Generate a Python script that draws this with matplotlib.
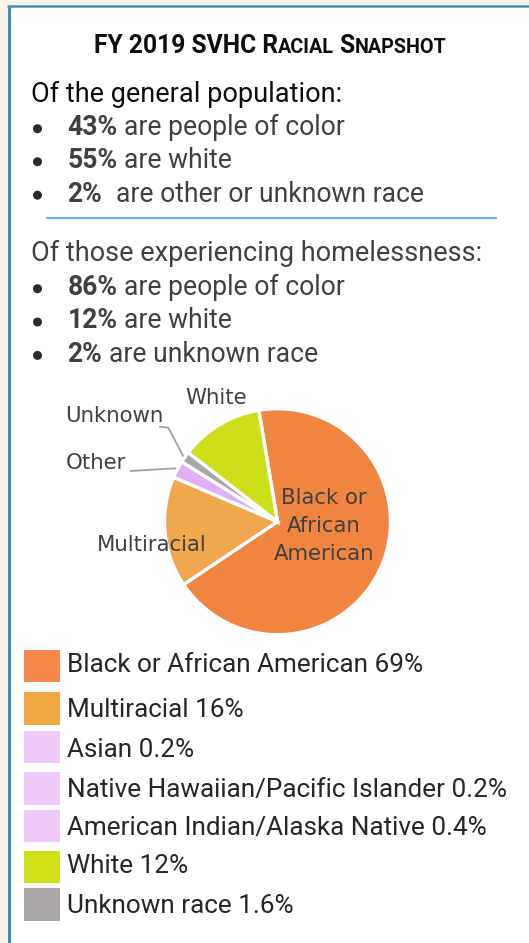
import matplotlib
matplotlib.use("Agg")
import matplotlib.pyplot as plt
from matplotlib.patches import Rectangle, Circle
import numpy as np

# ---- content -------------------------------------------------------------
title_runs = [("FY 2019 SVHC R", "big"), ("ACIAL", "small"), (" S", "big"), ("NAPSHOT", "small")]

general_heading = "Of the general population:"
general_pct = ["43%", "55%", "2%"]
general_text = [" are people of color", " are white", "  are other or unknown race"]

homeless_heading = "Of those experiencing homelessness:"
homeless_pct = ["86%", "12%", "2%"]
homeless_text = [" are people of color", " are white", " are unknown race"]

pie_labels = ["Black or\nAfrican\nAmerican", "Multiracial", "Other", "Unknown", "White"]
pie_values = [69, 16, 2.5, 1.6, 12]

legend_names = ["Black or African American", "Multiracial", "Asian",
                "Native Hawaiian/Pacific Islander", "American Indian/Alaska Native",
                "White", "Unknown race"]
legend_values = [69, 16, 0.2, 0.2, 0.4, 12, 1.6]

# ---- style ---------------------------------------------------------------
BODY = "Roboto"
PIE_FONT = "DejaVu Sans"
pie_colors = ["#f08541", "#f0a84e", "#dfb0f5", "#a8a6a6", "#cddf1a"]
legend_colors = ["#f5874a", "#f0a842", "#eecbfa", "#eecbfa", "#eecbfa", "#cfe018", "#aba7a7"]
BORDER = "#4a8fa8"
CREAM = "#f6f4e9"
RULE = "#6ab4d4"
DARK = "#0d0d0d"
GREY = "#404040"

W, H = 529, 943
fig = plt.figure(figsize=(W / 100, H / 100), dpi=100)
fig.patch.set_facecolor("white")

# pie sits underneath the full-page text layer
cx, cy, R = 277.5, 521.7, 113
pax = fig.add_axes([(cx - R) / W, (H - cy - R) / H, 2 * R / W, 2 * R / H])
pax.set_zorder(1)

ax = fig.add_axes([0, 0, 1, 1])
ax.set_zorder(2)
ax.patch.set_alpha(0)
ax.set_xlim(0, W)
ax.set_ylim(H, 0)
ax.axis("off")
renderer = fig.canvas.get_renderer()


def ink_width(s, size, weight="normal", family=BODY):
    t = ax.text(0, 0, s, fontsize=size, fontweight=weight, family=family)
    w = t.get_window_extent(renderer).width
    t.remove()
    return w


def advance(s, size, weight="normal", family=BODY):
    if not s:
        return 0.0
    return ink_width("|" + s + "|", size, weight, family) - ink_width("||", size, weight, family)


def runs_width(runs):
    return sum(advance(txt, sz, wt) for txt, sz, wt, _ in runs)


def draw_runs(x, y, runs):
    for txt, sz, wt, col in runs:
        lead = len(txt) - len(txt.lstrip(" "))
        x += advance(" " * lead, sz, wt)
        body = txt.lstrip(" ")
        ax.text(x, y, body, fontsize=sz, fontweight=wt, color=col, family=BODY,
                ha="left", va="baseline")
        x += advance(body, sz, wt)
    return x


def fit(runs, target):
    return 10.0 * target / runs_width([(t, 10 * s, w, c) for t, s, w, c in runs])


# ---- frame ---------------------------------------------------------------
ax.add_patch(Rectangle((0, 0), 7, H, color=CREAM, lw=0))
ax.add_patch(Rectangle((0, 0), W, 5, color=CREAM, lw=0))
ax.plot([8.5, 8.5], [5.5, H], color=BORDER, lw=2.3, solid_capstyle="butt")
ax.plot([7, W], [6.2, 6.2], color=BORDER, lw=1.8, solid_capstyle="butt")

# ---- title (small caps) -------------------------------------------------
rel = {"big": 1.0, "small": 0.8}
base = fit([(t, rel[k], "bold", DARK) for t, k in title_runs], 354)
truns = [(t, base * rel[k], "bold", DARK) for t, k in title_runs]
tw = runs_width(truns)
draw_runs(270 - tw / 2, 53, truns)

# ---- text blocks ---------------------------------------------------------
head_fs = fit([(general_heading, 1, "normal", DARK)], 311)
bul_fs = fit([(general_pct[0], 1, "bold", GREY), (general_text[0], 1, "normal", GREY)], 277)


def bullet_block(heading, color, y_head, pcts, texts, y_lines):
    draw_runs(31, y_head, [(heading, head_fs, "normal", color)])
    for p, t, y in zip(pcts, texts, y_lines):
        ax.add_patch(Circle((37.5, y - 6.3), 4.5, color="#2b2b2b", lw=0))
        draw_runs(67.5, y, [(p, bul_fs, "bold", GREY), (t, bul_fs, "normal", GREY)])


bullet_block(general_heading, DARK, 102, general_pct, general_text, [135, 168, 201.5])
ax.plot([47, 496], [218, 218], color=RULE, lw=1.5)
bullet_block(homeless_heading, GREY, 261, homeless_pct, homeless_text, [295, 328.3, 361.7])

# ---- pie -------------------------------------------------------------------
wedges, _ = pax.pie(pie_values, colors=pie_colors, startangle=99.5, counterclock=False,
                    wedgeprops=dict(edgecolor="white", linewidth=2.4))
pax.set_xlim(-1, 1)
pax.set_ylim(-1, 1)
pax.axis("off")


def rim_point(w, scale=1.02):
    a = np.deg2rad((w.theta1 + w.theta2) / 2)
    return cx + scale * R * np.cos(a), cy - scale * R * np.sin(a)


pie_fs = 15.3
label_pos = {"Black or\nAfrican\nAmerican": (324, 526), "Multiracial": (151.5, 545),
             "Other": (96, 463), "Unknown": (114, 416.5), "White": (216, 397.5)}
for lab in pie_labels:
    x, y = label_pos[lab]
    ax.text(x, y, lab, fontsize=pie_fs, family=PIE_FONT, color=GREY,
            ha="center", va="center", linespacing=1.5)

# leader lines for the thin slices
ux, uy = rim_point(wedges[pie_labels.index("Unknown")])
ax.plot([160, 168.3, ux], [426.7, 427.7, uy], color="#a0a0a0", lw=1.3)
ox, oy = rim_point(wedges[pie_labels.index("Other")])
ax.plot([130.7, ox], [471, oy], color="#a0a0a0", lw=1.3)

# ---- legend ----------------------------------------------------------------
leg_labels = [f"{n} {v:g}%" for n, v in zip(legend_names, legend_values)]
leg_fs = fit([(leg_labels[0], 1, "normal", GREY)], 357)
leg_tops = [650, 692.3, 731, 772.3, 810, 851, 888.3]
leg_base = [671.7, 716.7, 757.3, 796.7, 835, 873.3, 913.3]
for lab, col, top, yb in zip(leg_labels, legend_colors, leg_tops, leg_base):
    ax.add_patch(Rectangle((24, top), 35.5, 32.3, color=col, lw=0))
    draw_runs(67, yb, [(lab, leg_fs, "normal", "#262626")])

fig.savefig("out.png", dpi=100, facecolor="white")
